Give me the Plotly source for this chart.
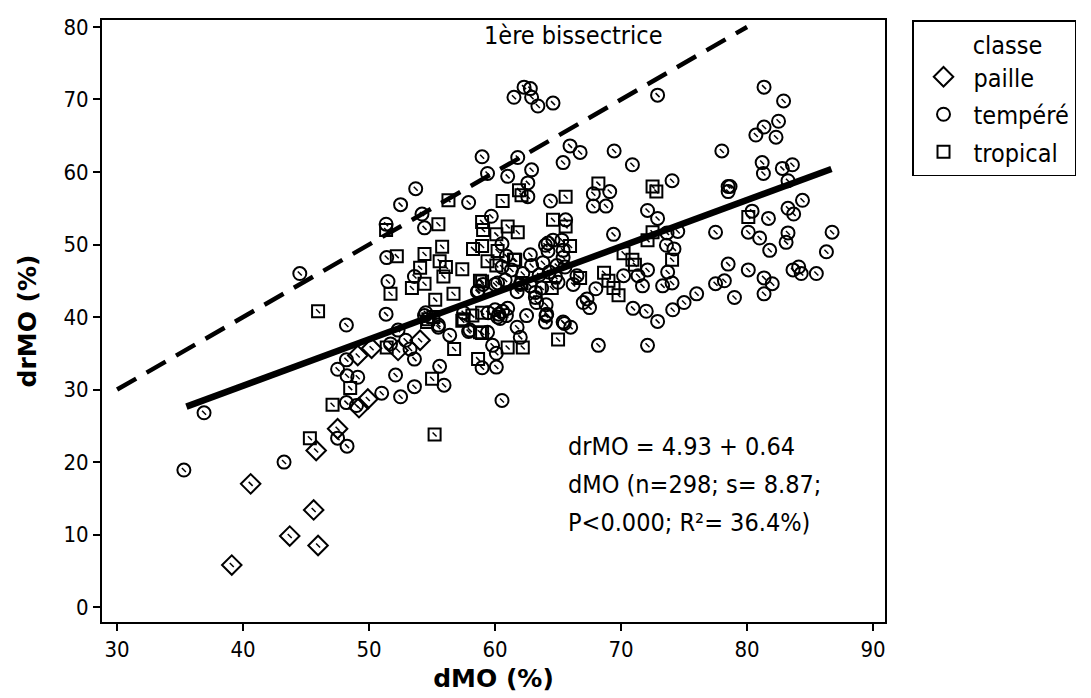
import plotly.graph_objects as go

# ---------------- data ----------------
paille_x = [39.1, 40.6, 43.7, 45.6, 45.95, 45.8, 47.5, 49.9, 49.2, 49.1, 50.2, 52.3, 54.05]
paille_y = [5.8, 17.0, 9.8, 13.4, 8.5, 21.6, 24.6, 28.7, 27.5, 34.7, 35.7, 35.4, 36.8]

tempere_x = [
    35.3, 36.9, 43.25, 47.5, 48.25, 48.2, 49.0, 47.5, 48.25, 49.1, 48.2, 48.2, 44.5, 51.35, 51.4,
    51.5, 51.35, 52.5, 53.6, 54.4, 52.3, 52.9, 53.25, 53.6, 52.1, 53.6, 52.5, 51.0, 51.7, 60.55,
    55.95, 55.6, 56.4, 58.97, 60.1, 59.8, 60.1, 62.0, 61.75, 65.4, 66.0, 64.0, 64.05, 62.5, 59.4,
    57.9, 55.5, 68.2, 72.1, 72.9,
    61.5, 62.3, 62.8, 62.9, 63.4, 64.6, 72.9, 81.35, 82.9, 82.5, 81.35, 80.7, 82.3, 78.0, 81.2,
    81.3, 82.8, 83.6, 83.25, 78.65, 78.5, 74.05, 84.4, 83.25, 83.7, 80.4, 81.7, 80.1, 81.0, 81.8,
    83.25, 83.1, 86.75, 86.3, 77.5, 78.5, 80.1, 81.35, 82.0, 81.35, 79.0, 77.5, 78.2, 83.65, 84.1,
    84.3, 85.5, 76.0, 75.0, 74.1, 72.0, 70.95, 67.5, 67.3, 65.5, 67.0, 68.0, 72.1, 73.7, 70.2,
    71.35, 71.7, 73.3, 74.05, 73.6, 74.2, 73.65, 74.5, 69.4, 72.1, 72.9, 67.8, 69.1, 67.8, 68.8,
    78.5, 69.45, 70.9, 65.95, 66.75, 65.4, 65.6, 64.4, 66.2, 66.5,
    58.97, 61.8, 62.9, 59.4, 61.0, 62.6, 62.6, 57.9, 53.7, 54.2, 54.4, 59.7, 60.55, 60.9, 60.55,
    61.3, 62.8, 62.9, 62.2, 64.0, 64.2, 64.6, 65.3, 65.4, 65.4, 64.9, 65.55, 59.05, 58.6, 60.2,
    60.8, 61.75, 62.8, 63.2, 63.3, 64.05, 64.1, 59.45, 57.5, 58.0, 54.5, 55.5, 63.7, 63.2, 58.65,
    60.0, 62.0, 64.2,
    60.0, 60.3, 60.6, 60.9, 60.4, 61.0, 60.2,
    64.8, 65.0, 64.3, 63.8, 63.5,
]
tempere_y = [
    18.9, 26.8, 20.0, 23.3, 22.2, 28.2, 27.8, 32.8, 31.9, 31.7, 34.1, 38.9, 46.0, 52.8, 48.2,
    44.9, 40.4, 55.5, 45.6, 40.2, 38.2, 36.8, 35.6, 34.2, 32.0, 30.4, 29.0, 29.5, 36.3, 28.5,
    30.6, 33.2, 37.5, 33.0, 33.1, 36.1, 35.0, 37.2, 38.6, 39.3, 38.6, 39.3, 40.2, 40.2, 37.9,
    38.0, 38.6, 36.1, 36.1, 39.4,
    70.3, 71.7, 71.5, 70.3, 69.1, 69.5, 70.6, 71.7, 69.8, 67.0, 66.2, 65.1, 64.8, 62.9, 61.3,
    59.8, 60.5, 61.0, 58.8, 58.0, 57.3, 58.8, 56.1, 55.0, 54.2, 54.6, 53.6, 51.7, 50.9, 49.2,
    51.6, 50.3, 51.7, 49.0, 51.7, 47.3, 46.5, 45.4, 44.6, 43.2, 42.7, 44.6, 45.0, 46.5, 46.9,
    46.0, 46.0, 43.2, 42.0, 41.0, 40.8, 41.2, 41.3, 42.5, 39.1, 42.0, 43.9, 46.5, 46.2, 45.7,
    45.7, 44.3, 44.3, 44.7, 49.9, 49.4, 51.6, 51.8, 51.4, 54.7, 53.6, 57.0, 57.3, 55.3, 55.3,
    58.0, 62.9, 61.0, 63.6, 62.7, 61.3, 53.4, 56.0, 44.5, 45.7,
    62.1, 62.0, 60.3, 59.8, 59.4, 58.5, 56.6, 55.8, 57.7, 54.2, 52.3, 53.9, 50.1, 48.4, 46.9,
    46.5, 48.6, 47.1, 46.0, 49.9, 49.1, 50.6, 50.6, 49.2, 48.2, 47.1, 46.9, 44.5, 43.5, 44.7,
    45.1, 43.5, 44.3, 43.4, 42.0, 41.7, 40.4, 40.6, 40.6, 38.2, 40.6, 38.9, 44.0, 42.7, 43.6,
    44.5, 44.5, 50.2,
    41.0, 40.4, 40.8, 40.2, 39.8, 41.2, 40.0,
    45.5, 44.8, 46.2, 47.5, 45.8,
]

tropical_x = [
    45.95, 51.35, 52.2, 51.7, 54.05, 53.4, 54.4, 54.6, 51.4, 48.5, 47.1, 55.0, 45.3, 55.2, 56.75,
    58.65, 61.0, 62.2, 65.0, 58.97, 57.5, 68.2, 72.5, 72.8, 72.5, 72.1, 74.05, 70.2, 70.9, 71.1,
    68.65, 69.0, 69.4, 69.8, 66.75, 80.1, 65.6, 64.6, 65.6, 62.1, 60.6, 56.3, 55.5, 58.97, 59.05,
    60.1, 61.0, 61.8, 54.4, 55.8, 55.6, 56.1, 55.9, 57.4, 56.7, 55.25, 58.25, 58.97, 60.2, 59.4,
    60.1, 61.5, 65.95, 58.97, 62.1, 58.97, 58.2, 57.4, 58.8, 54.7, 55.1, 58.8, 64.5, 61.6, 61.9,
]
tropical_y = [
    40.8, 52.0, 48.4, 43.2, 46.8, 44.0, 44.6, 39.3, 35.8, 30.2, 27.9, 31.5, 23.3, 23.8, 35.6,
    34.2, 35.8, 35.8, 36.9, 37.8, 39.7, 58.4, 58.0, 57.3, 51.7, 50.6, 47.9, 48.8, 47.9, 47.2,
    46.1, 45.0, 44.0, 43.0, 45.4, 53.8, 56.6, 53.4, 52.5, 56.8, 56.0, 56.1, 52.8, 53.1, 52.0,
    51.4, 52.5, 51.7, 48.7, 49.7, 47.7, 46.9, 45.6, 46.6, 43.2, 42.4, 49.4, 49.8, 49.1, 47.7,
    47.1, 47.9, 49.8, 44.9, 44.7, 40.6, 40.2, 39.5, 37.9, 39.7, 40.0, 45.0, 44.0, 47.9, 57.5,
]

bis_x = [30, 80]
bis_y = [30, 80]
fit_intercept = 4.93
fit_slope = 0.64
fit_x = [35.5, 86.7]
fit_y = [fit_intercept + fit_slope * v for v in fit_x]

eq_lines = ["drMO = 4.93 + 0.64", "dMO (n=298; s= 8.87;", "P<0.000; R²= 36.4%)"]

FONT = "DejaVu Sans Condensed, DejaVu Sans"
TITLE_FONT = "DejaVu Sans"

fig = go.Figure()

fig.add_trace(go.Scatter(x=bis_x, y=bis_y, mode="lines", showlegend=False,
                         line=dict(color="black", width=4.5, dash="22px,12px"), hoverinfo="skip"))
fig.add_trace(go.Scatter(x=fit_x, y=fit_y, mode="lines", showlegend=False,
                         line=dict(color="black", width=6.5), hoverinfo="skip"))

groups = [
    ("paille", paille_x, paille_y, "diamond-open", 15),
    ("tempéré", tempere_x, tempere_y, "circle-open", 13),
    ("tropical", tropical_x, tropical_y, "square-open", 12),
]
for name, xs, ys, sym, sz in groups:
    fig.add_trace(go.Scatter(x=xs, y=ys, mode="markers", name=name, legendgroup=name,
                             marker=dict(symbol=sym, size=sz, color="black",
                                         line=dict(color="black", width=2))))
    fig.add_trace(go.Scatter(x=xs, y=ys, mode="markers", showlegend=False, legendgroup=name,
                             marker=dict(symbol="line-nw", size=4, color="black",
                                         line=dict(color="black", width=1.5)),
                             hoverinfo="skip"))

fig.add_annotation(x=66.2, y=78.8, text="1ère bissectrice", showarrow=False,
                   font=dict(family=FONT, size=25, color="black"))
for i, t in enumerate(eq_lines):
    fig.add_annotation(x=65.6, y=22.2 - i * 5.25, text=t, showarrow=False, xanchor="left",
                       font=dict(family=FONT, size=25, color="black"))

fig.update_layout(
    width=1091, height=698,
    paper_bgcolor="white", plot_bgcolor="white",
    margin=dict(l=94, r=214, t=7, b=84),
    font=dict(family=FONT, size=22, color="black"),
    legend=dict(x=1.0345, y=1.0, xanchor="left", yanchor="top",
                bordercolor="black", borderwidth=1.5, bgcolor="white",
                title=dict(text="&nbsp;&nbsp;&nbsp;&nbsp;&nbsp;&nbsp;&nbsp;&nbsp;classe",
                           font=dict(size=25)),
                font=dict(size=25), traceorder="grouped", tracegroupgap=2,
                itemwidth=50),
)
fig.update_xaxes(range=[28.8, 90.95], tickvals=[30, 40, 50, 60, 70, 80, 90],
                 showline=True, linewidth=2, linecolor="black", mirror=True,
                 ticks="outside", ticklen=7, tickwidth=1.5, tickcolor="black",
                 showgrid=False, zeroline=False,
                 title=dict(text="<b>dMO (%)</b>", font=dict(family=TITLE_FONT, size=25),
                            standoff=8))
fig.update_yaxes(range=[-2.05, 80.96], tickvals=[0, 10, 20, 30, 40, 50, 60, 70, 80],
                 showline=True, linewidth=2, linecolor="black", mirror=True,
                 ticks="outside", ticklen=7, tickwidth=1.5, tickcolor="black",
                 showgrid=False, zeroline=False,
                 title=dict(text="<b>drMO (%)</b>", font=dict(family=TITLE_FONT, size=25),
                            standoff=20))

fig.write_html("out.html")
